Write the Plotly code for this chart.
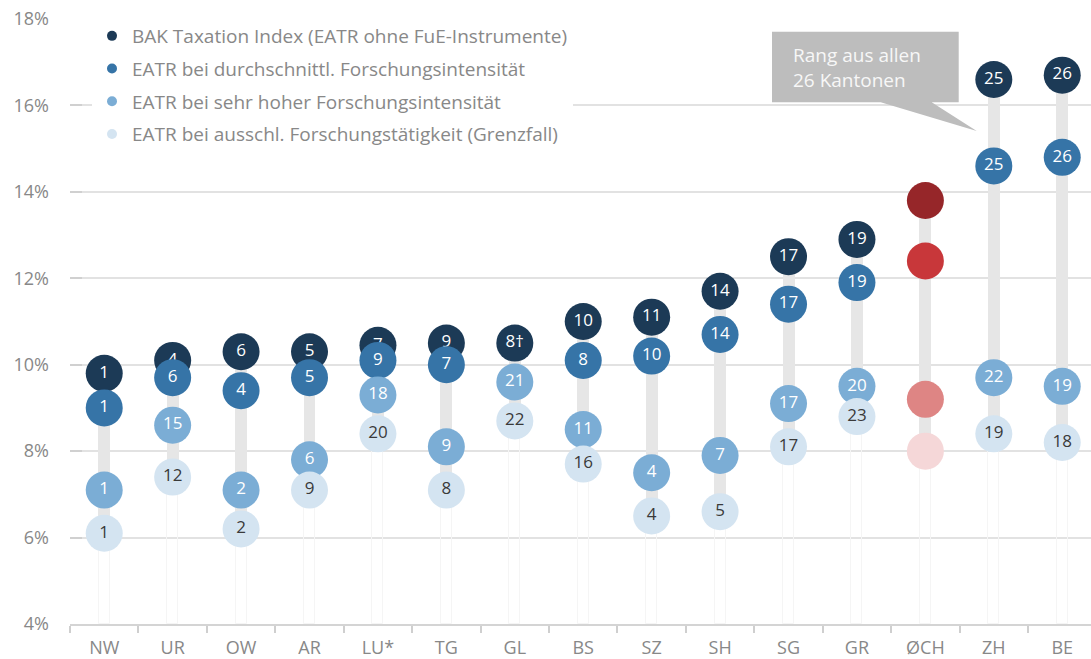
import plotly.graph_objects as go

# ---------------- data ----------------
cantons = ["NW", "UR", "OW", "AR", "LU*", "TG", "GL", "BS", "SZ", "SH", "SG", "GR", "ØCH", "ZH", "BE"]

bak_index = [9.8, 10.1, 10.3, 10.3, 10.45, 10.5, 10.5, 11.0, 11.1, 11.7, 12.5, 12.9, 13.8, 16.6, 16.7]
eatr_avg = [9.0, 9.7, 9.4, 9.7, 10.1, 10.0, None, 10.1, 10.2, 10.7, 11.4, 11.9, 12.4, 14.6, 14.8]
eatr_high = [7.1, 8.6, 7.1, 7.8, 9.3, 8.1, 9.6, 8.5, 7.5, 7.9, 9.1, 9.5, 9.2, 9.7, 9.5]
eatr_excl = [6.1, 7.4, 6.2, 7.1, 8.4, 7.1, 8.7, 7.7, 6.5, 6.6, 8.1, 8.8, 8.0, 8.4, 8.2]

rank_bak = ["1", "4", "6", "5", "7", "9", "8†", "10", "11", "14", "17", "19", "", "25", "26"]
rank_avg = ["1", "6", "4", "5", "9", "7", "", "8", "10", "14", "17", "19", "", "25", "26"]
rank_high = ["1", "15", "2", "6", "18", "9", "21", "11", "4", "7", "17", "20", "", "22", "19"]
rank_excl = ["1", "12", "2", "9", "20", "8", "22", "16", "4", "5", "17", "23", "", "19", "18"]

series_names = [
    "BAK Taxation Index (EATR ohne FuE-Instrumente)",
    "EATR bei durchschnittl. Forschungsintensität",
    "EATR bei sehr hoher Forschungsintensität",
    "EATR bei ausschl. Forschungstätigkeit (Grenzfall)",
]
y_ticks = [4, 6, 8, 10, 12, 14, 16, 18]
y_ticktext = ["4%", "6%", "8%", "10%", "12%", "14%", "16%", "18%"]

# ---------------- styles ----------------
blue_cols = ["#1c3a56", "#3674a7", "#7badd5", "#d4e4f1"]
red_cols = ["#962629", "#c8373a", "#de8584", "#f5d7d8"]
text_cols = ["#ffffff", "#ffffff", "#ffffff", "#3a3a3a"]
FONT = "'Open Sans', Arial, sans-serif"
GREY_TXT = "#888888"
highlight = "ØCH"

all_series = [bak_index, eatr_avg, eatr_high, eatr_excl]
all_ranks = [rank_bak, rank_avg, rank_high, rank_excl]

fig = go.Figure()

# faint outline below each stem
lows = [min(v for v in col if v is not None) for col in zip(*all_series)]
highs = [max(v for v in col if v is not None) for col in zip(*all_series)]
fig.add_trace(go.Bar(
    x=cantons, y=[l - 4 for l in lows], base=[4] * len(cantons), width=0.16,
    marker=dict(color="rgba(0,0,0,0)", line=dict(color="#f5f5f5", width=1)),
    showlegend=False, hoverinfo="skip"))
# grey stems
fig.add_trace(go.Bar(
    x=cantons, y=[h - l for h, l in zip(highs, lows)], base=lows, width=0.175,
    marker=dict(color="#e6e6e6", line=dict(width=0)),
    showlegend=False, hoverinfo="skip"))

for i, (vals, ranks) in enumerate(zip(all_series, all_ranks)):
    cols = [red_cols[i] if c == highlight else blue_cols[i] for c in cantons]
    fig.add_trace(go.Scatter(
        x=cantons, y=vals, mode="markers+text", text=ranks,
        textposition="middle center",
        textfont=dict(family=FONT, size=17, color=text_cols[i]),
        marker=dict(size=37, color=cols, line=dict(width=0)),
        name=series_names[i], showlegend=False, cliponaxis=False,
        hovertemplate="%{x}: %{y:.1f}%<extra></extra>"))

# legend entries
for i in range(4):
    fig.add_trace(go.Scatter(
        x=[None], y=[None], mode="markers", name=series_names[i],
        legendgroup=f"g{i}",
        marker=dict(size=10, color=blue_cols[i])))

# ---------------- layout ----------------
L, T, W, H = 70, 19, 1091, 659
plot_w = W - L
plot_h = 624 - T
px_per_cat = 68.43


def px(xp):
    return (xp - L) / plot_w


def py(yp):
    return (624 - yp) / plot_h


fig.update_layout(
    width=W, height=H,
    margin=dict(l=L, r=0, t=T, b=H - 624),
    plot_bgcolor="white", paper_bgcolor="white",
    barmode="overlay", bargap=0,
    showlegend=True,
    legend=dict(
        x=px(92), y=py(17), xanchor="left", yanchor="top",
        bgcolor="white", borderwidth=0,
        font=dict(family=FONT, size=19, color=GREY_TXT),
        tracegroupgap=5, itemsizing="trace",
    ),
    xaxis=dict(
        type="category", range=[-0.5, -0.5 + plot_w / px_per_cat],
        showgrid=False, zeroline=False,
        showline=True, linecolor="#d4d4d4", linewidth=2,
        ticks="outside", tickson="boundaries", ticklen=7,
        tickcolor="#cfcfcf", tickwidth=1.5,
        tickfont=dict(family=FONT, size=18, color=GREY_TXT),
        ticklabelstandoff=6,
    ),
    yaxis=dict(
        range=[4, 18], tickvals=y_ticks, ticktext=y_ticktext,
        showgrid=True, gridcolor="#e2e2e2", gridwidth=2,
        zeroline=False, showline=False,
        ticks="inside", ticklen=12, tickcolor="#d0d0d0", tickwidth=2,
        tickfont=dict(family=FONT, size=18, color=GREY_TXT),
        ticklabelstandoff=20,
    ),
)

# callout box with pointer
bx0, bx1, by0, by1 = 772, 958.7, 31.7, 102.3
tb0, tb1, tipx, tipy = 880.7, 931.7, 976.7, 131
path = (f"M {px(bx0)} {py(by0)} L {px(bx1)} {py(by0)} L {px(bx1)} {py(by1)} "
        f"L {px(tb1)} {py(by1)} L {px(tipx)} {py(tipy)} L {px(tb0)} {py(by1)} "
        f"L {px(bx0)} {py(by1)} Z")
fig.add_shape(type="path", path=path, xref="paper", yref="paper",
              fillcolor="#bdbdbd", line=dict(width=0), layer="above")
fig.add_annotation(
    x=px(791), y=py(67), xref="paper", yref="paper",
    xanchor="left", yanchor="middle", align="left", showarrow=False,
    text="Rang aus allen<br>26 Kantonen",
    font=dict(family=FONT, size=19, color="#f7f7f7"))

fig.write_html("out.html", config={"displayModeBar": False},
               post_script="document.body.style.margin='0';")
